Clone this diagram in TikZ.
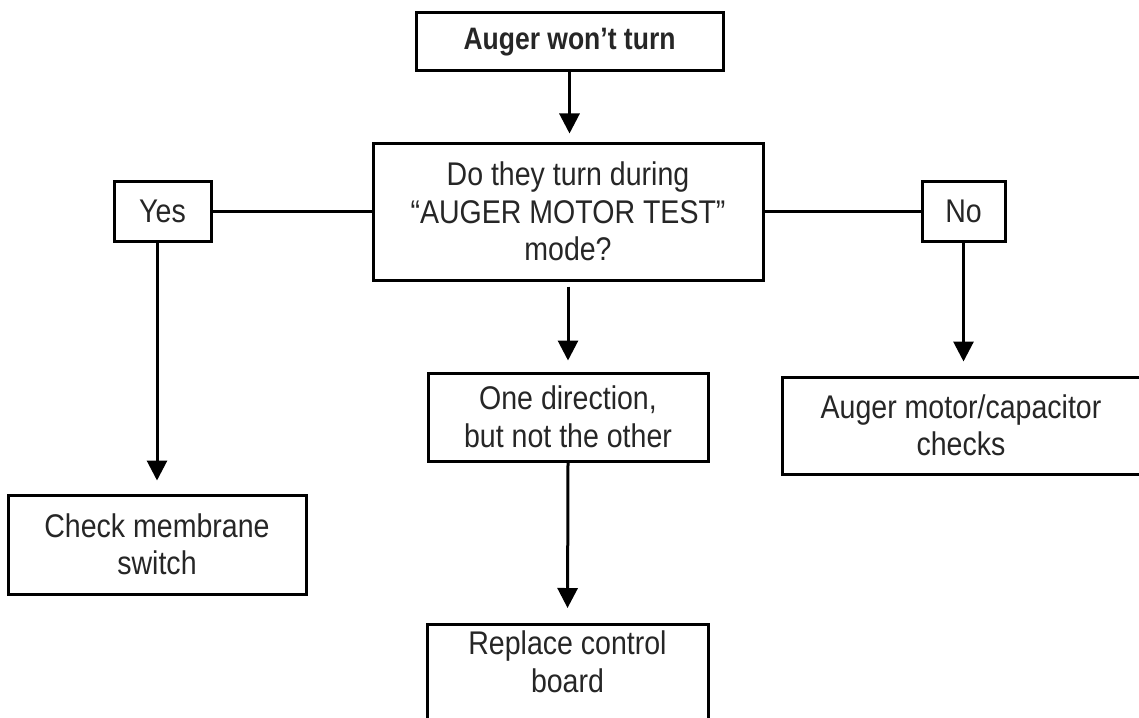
\documentclass[tikz,border=0pt]{standalone}
\usepackage{fontspec}
\setmainfont{Liberation Sans}[FakeStretch=0.87]
\newfontfamily\titlefont{Liberation Sans}[FakeStretch=0.855]
\usetikzlibrary{arrows.meta, calc}

\begin{document}
\begin{tikzpicture}[
    x=0.5pt, y=-0.5pt,
    qframe/.style={draw, line width=1.5pt, inner sep=0pt, text=black!85,
      font=\fontsize{16.4pt}{18.75pt}\selectfont},
    qbox/.style={qframe, align=center},
    arrow/.style={-{Triangle[length=10pt,width=10pt]}, line width=1.5pt, shorten >=6.5pt},
    link/.style={line width=1.5pt}
  ]
  \useasboundingbox (0,0) rectangle (1139,717);
  % --- question ---
  \node[qbox, minimum width=153.5pt, minimum height=29pt,
        font=\titlefont\bfseries\fontsize{15.5pt}{18.75pt}\selectfont] (start) at (569.5,42) {Auger won’t turn};
  \node[qbox, minimum width=195pt, minimum height=68.5pt] (test) at (568,211.5) {Do they turn during\\“AUGER MOTOR TEST”\\mode?};
  % --- answers ---
  \node[qbox, minimum width=48.5pt, minimum height=30pt] (yes) at (162.5,211) {Yes};
  \node[qbox, minimum width=41.5pt, minimum height=30pt] (no) at (963.5,211) {No};
  % --- actions ---
  \node[qbox, minimum width=140pt, minimum height=44pt] (oneway) at (568,417) {One direction,\\but not the other};
  \node[qbox, minimum width=149pt, minimum height=49.5pt] (membrane) at (157,544.5) {Check membrane\\switch};
  \node[qbox, minimum width=179pt, minimum height=48.5pt] (motor) at (961,425.5) {Auger motor/capacitor\\checks};
  \node[qframe, anchor=north, minimum width=140.5pt, text height=15pt, text depth=50pt] (board) at (567.5,623)
    {\begin{tabular}[t]{@{}c@{}}Replace control\\board\end{tabular}};
  % --- connectors ---
  \draw[arrow, shorten >=4pt] (start.south) -- (start.south |- test.north);
  \draw[link] (yes.east) -- (yes.east -| test.west);
  \draw[link] (test.east) -- (test.east -| no.west);
  \draw[arrow] (yes.south -| membrane.north) -- (membrane.north);
  \draw[arrow, shorten >=7pt] (no.south) -- (no.south |- motor.north);
  \draw[arrow, shorten <=2.5pt, shorten >=5.5pt] (test.south) -- (oneway.north);
  \draw[arrow, shorten >=7.5pt] (oneway.south) -- (board.north);
\end{tikzpicture}
\end{document}
